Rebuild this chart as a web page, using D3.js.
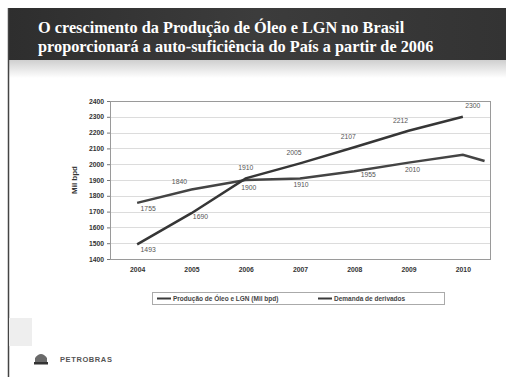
<!DOCTYPE html>
<html>
<head>
<meta charset="utf-8">
<script src="https://cdn.jsdelivr.net/npm/d3@7"></script>
<style>
  html, body { margin: 0; padding: 0; background: #fff; }
  svg { display: block; }
</style>
</head>
<body>
<svg id="chart" width="506" height="377"></svg>
<script>
// Oil + NGL production vs. demand for oil products, Brazil (thousand bpd)
const years = [2004, 2005, 2006, 2007, 2008, 2009, 2010];
const yearLabels = ["2004", "2005", "2006", "2007", "2008", "2009", "2010"];
const producao = [1493, 1690, 1910, 2005, 2107, 2212, 2300];
const demandaYears = [2004, 2005, 2006, 2007, 2008, 2009, 2010, 2010.4];
const demanda = [1755, 1840, 1900, 1910, 1955, 2010, 2060, 2020];
const yTicks = [1400, 1500, 1600, 1700, 1800, 1900, 2000, 2100, 2200, 2300, 2400];
const titleLines = [
  "O crescimento da Produção de Óleo e LGN no Brasil",
  "proporcionará a auto-suficiência do País a partir de 2006"
];
const seriesNames = ["Produção de Óleo e LGN (Mil bpd)", "Demanda de derivados"];

const svg = d3.select("#chart");
const defs = svg.append("defs");

// title band gradient
const g1 = defs.append("linearGradient").attr("id", "band").attr("x1", 0).attr("x2", 1).attr("y1", 0).attr("y2", 0);
g1.append("stop").attr("offset", "0%").attr("stop-color", "#2e2e2e");
g1.append("stop").attr("offset", "50%").attr("stop-color", "#3c3c3c");
g1.append("stop").attr("offset", "100%").attr("stop-color", "#333");
const g2 = defs.append("linearGradient").attr("id", "fade").attr("x1", 0).attr("x2", 0).attr("y1", 0).attr("y2", 1);
g2.append("stop").attr("offset", "0%").attr("stop-color", "#cfcfcf");
g2.append("stop").attr("offset", "100%").attr("stop-color", "#fff");

svg.append("rect").attr("width", 506).attr("height", 377).attr("fill", "#fff");
svg.append("rect").attr("x", 8).attr("y", 60).attr("width", 498).attr("height", 18).attr("fill", "url(#fade)");
svg.append("rect").attr("x", 8).attr("y", 8).attr("width", 498).attr("height", 52).attr("fill", "url(#band)");
svg.append("line").attr("x1", 8.5).attr("x2", 8.5).attr("y1", 8).attr("y2", 377)
  .attr("stroke", "#444").attr("stroke-width", 1.5);
svg.append("rect").attr("x", 9).attr("y", 318).attr("width", 23).attr("height", 28).attr("fill", "#eeeeee");

svg.append("g").selectAll("text").data(titleLines).join("text")
  .attr("x", 38).attr("y", (d, i) => 33 + i * 19)
  .attr("fill", "#fff")
  .attr("font-family", "Liberation Serif, Times New Roman, serif")
  .attr("font-weight", "bold").attr("font-size", 16.3)
  .text(d => d);

// plot area
const plotL = 110, plotR = 490, plotT = 101, plotB = 259;
const x = d3.scaleLinear().domain([2003.5, 2010.5]).range([plotL, plotR]);
const y = d3.scaleLinear().domain([1400, 2400]).range([plotB, plotT]);

svg.append("g").selectAll("line").data(yTicks).join("line")
  .attr("x1", plotL).attr("x2", plotR)
  .attr("y1", d => Math.round(y(d)) + 0.5).attr("y2", d => Math.round(y(d)) + 0.5)
  .attr("stroke", "#dcdcdc").attr("stroke-width", 1);

svg.append("rect").attr("x", plotL + 0.5).attr("y", plotT + 0.5)
  .attr("width", plotR - plotL).attr("height", plotB - plotT)
  .attr("fill", "none").attr("stroke", "#9a9a9a").attr("stroke-width", 1);

const yAxis = svg.append("g").attr("transform", `translate(${plotL},0)`)
  .call(d3.axisLeft(y).tickValues(yTicks).tickSize(3).tickFormat(d3.format("d")));
yAxis.select(".domain").remove();
yAxis.selectAll("line").attr("stroke", "#777");
yAxis.selectAll("text").attr("font-family", "Arial, Liberation Sans, sans-serif")
  .attr("font-size", 6.8).attr("font-weight", "bold").attr("fill", "#333");

const xAxis = svg.append("g").attr("transform", `translate(0,${plotB})`)
  .call(d3.axisBottom(x).tickValues(years).tickSize(0).tickPadding(8)
    .tickFormat((d, i) => yearLabels[i]));
xAxis.select(".domain").remove();
xAxis.selectAll("text").attr("font-family", "Arial, Liberation Sans, sans-serif")
  .attr("font-size", 6.8).attr("font-weight", "bold").attr("fill", "#333");

svg.append("text")
  .attr("transform", `translate(77,${(plotT + plotB) / 2}) rotate(-90)`)
  .attr("text-anchor", "middle")
  .attr("font-family", "Arial, Liberation Sans, sans-serif")
  .attr("font-size", 8).attr("font-weight", "bold").attr("fill", "#333")
  .text("Mil bpd");

// series lines
const line = d3.line().x(d => x(d[0])).y(d => y(d[1]));
const prodPts = years.map((yr, i) => [yr, producao[i]]);
const demPts = demandaYears.map((yr, i) => [yr, demanda[i]]);

svg.append("path").datum(demPts).attr("d", line)
  .attr("fill", "none").attr("stroke", "#444").attr("stroke-width", 2.5);
svg.append("path").datum(prodPts).attr("d", line)
  .attr("fill", "none").attr("stroke", "#363636").attr("stroke-width", 2.5);

// value labels
const lblFont = (sel) => sel.attr("font-family", "Arial, Liberation Sans, sans-serif")
  .attr("font-size", 6.8).attr("fill", "#555").attr("text-anchor", "middle");

const prodOffsets = [[11, 8], [9, 6], [0, -8], [-6, -8], [-6, -8], [-8, -8], [10, -9]];
svg.append("g").selectAll("text").data(prodPts).join("text")
  .attr("x", (d, i) => x(d[0]) + prodOffsets[i][0])
  .attr("y", (d, i) => y(d[1]) + prodOffsets[i][1])
  .call(lblFont)
  .text(d => d3.format("d")(d[1]));

const demOffsets = [[11, 8], [-12, -5], [3, 10], [1, 9], [14, 6], [4, 9], [0, 0]];
svg.append("g").selectAll("text").data(demPts.slice(0, 6)).join("text")
  .attr("x", (d, i) => x(d[0]) + demOffsets[i][0])
  .attr("y", (d, i) => y(d[1]) + demOffsets[i][1])
  .call(lblFont)
  .text(d => d3.format("d")(d[1]));

// legend
const leg = svg.append("g");
leg.append("rect").attr("x", 152.5).attr("y", 292.5).attr("width", 292).attr("height", 12)
  .attr("fill", "#fff").attr("stroke", "#aaa").attr("stroke-width", 1);
const legItems = [{ x: 157, name: seriesNames[0] }, { x: 318, name: seriesNames[1] }];
legItems.forEach(it => {
  leg.append("line").attr("x1", it.x).attr("x2", it.x + 14).attr("y1", 298.5).attr("y2", 298.5)
    .attr("stroke", "#3a3a3a").attr("stroke-width", 2);
  leg.append("text").attr("x", it.x + 16).attr("y", 301)
    .attr("font-family", "Arial, Liberation Sans, sans-serif")
    .attr("font-size", 6.5).attr("font-weight", "bold").attr("fill", "#444")
    .text(it.name);
});

// footer logo
const logo = svg.append("g").attr("transform", "translate(35,352)");
logo.append("path").attr("d", "M0,10 L0,6 Q6,-2 12,6 L12,10 Z").attr("fill", "#6a6a6a");
logo.append("rect").attr("x", -1).attr("y", 10).attr("width", 14).attr("height", 2.5).attr("fill", "#333");
svg.append("text").attr("x", 60).attr("y", 362)
  .attr("font-family", "Arial, Liberation Sans, sans-serif")
  .attr("font-size", 7.5).attr("font-weight", "bold").attr("letter-spacing", 0.6).attr("fill", "#555")
  .text("PETROBRAS");
</script>
</body>
</html>
